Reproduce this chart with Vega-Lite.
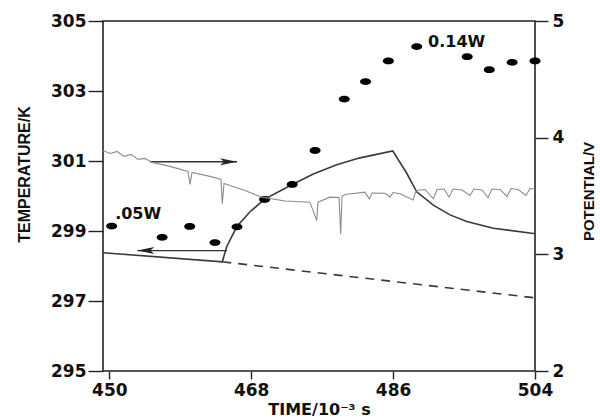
{
  "$schema": "https://vega.github.io/schema/vega-lite/v6.json",
  "width": 432,
  "height": 350,
  "autosize": {"type": "none"},
  "padding": {"left": 103, "top": 21, "right": 65, "bottom": 48},
  "background": "white",
  "config": {
    "view": {"stroke": "#222", "strokeWidth": 1.6},
    "axis": {"grid": false, "domain": false, "tickColor": "#222", "tickWidth": 1.4, "labelColor": "#111", "titleColor": "#111", "labelFont": "DejaVu Sans", "labelFontWeight": "bold", "labelFontSize": 17}
  },
  "datasets": {
    "dots": [
      {"t": 450.3, "T": 299.14}, {"t": 456.7, "T": 298.82}, {"t": 460.2, "T": 299.13},
      {"t": 463.4, "T": 298.67}, {"t": 466.2, "T": 299.12}, {"t": 469.7, "T": 299.9},
      {"t": 473.2, "T": 300.33}, {"t": 476.1, "T": 301.3}, {"t": 479.8, "T": 302.77},
      {"t": 482.5, "T": 303.27}, {"t": 485.4, "T": 303.86}, {"t": 489.0, "T": 304.27},
      {"t": 495.4, "T": 303.98}, {"t": 498.2, "T": 303.61}, {"t": 501.1, "T": 303.82},
      {"t": 504.0, "T": 303.86}
    ],
    "temp": [
      {"t": 449.2, "T": 298.38}, {"t": 464.33, "T": 298.12}, {"t": 464.89, "T": 298.55},
      {"t": 466.16, "T": 299.12}, {"t": 467.85, "T": 299.55}, {"t": 469.71, "T": 299.91},
      {"t": 473.21, "T": 300.33}, {"t": 475.88, "T": 300.63}, {"t": 478.85, "T": 300.89},
      {"t": 481.8, "T": 301.09}, {"t": 485.95, "T": 301.29}, {"t": 487.73, "T": 300.65},
      {"t": 488.99, "T": 300.12}, {"t": 491.1, "T": 299.74}, {"t": 493.22, "T": 299.46},
      {"t": 495.34, "T": 299.27}, {"t": 498.71, "T": 299.08}, {"t": 503.79, "T": 298.93},
      {"t": 504.0, "T": 298.93}
    ],
    "dashed": [
      {"t": 464.33, "T": 298.12}, {"t": 504.0, "T": 297.09}
    ],
    "arrows": [
      {"x1": 455.2, "x2": 466.2, "T": 300.98},
      {"x1": 453.55, "x2": 464.9, "T": 298.44}
    ],
    "heads": [
      {"t": 466.2, "T": 300.98, "dir": "right"},
      {"t": 453.55, "T": 298.44, "dir": "left"}
    ],
    "labels": [
      {"t": 450.74, "T": 299.49, "label": ".05W"},
      {"t": 490.44, "T": 304.4, "label": "0.14W"}
    ],
    "noisy": [
      {"t": 449.2, "P": 3.891}, {"t": 450.09, "P": 3.865}, {"t": 450.98, "P": 3.882},
      {"t": 451.86, "P": 3.84}, {"t": 452.75, "P": 3.857}, {"t": 453.64, "P": 3.814},
      {"t": 454.53, "P": 3.822}, {"t": 455.42, "P": 3.788}, {"t": 457.7, "P": 3.754},
      {"t": 459.98, "P": 3.711}, {"t": 460.24, "P": 3.599}, {"t": 460.49, "P": 3.702},
      {"t": 462.77, "P": 3.668}, {"t": 464.17, "P": 3.642}, {"t": 464.33, "P": 3.433},
      {"t": 464.55, "P": 3.607}, {"t": 467.21, "P": 3.547}, {"t": 469.37, "P": 3.49},
      {"t": 472.29, "P": 3.457}, {"t": 475.46, "P": 3.447}, {"t": 476.31, "P": 3.289},
      {"t": 476.47, "P": 3.447}, {"t": 478.0, "P": 3.49}, {"t": 479.14, "P": 3.487},
      {"t": 479.35, "P": 3.175}, {"t": 479.52, "P": 3.496}, {"t": 479.9, "P": 3.513},
      {"t": 482.43, "P": 3.533}, {"t": 482.98, "P": 3.476}, {"t": 483.33, "P": 3.526},
      {"t": 484.98, "P": 3.524}, {"t": 485.61, "P": 3.49}, {"t": 485.99, "P": 3.53},
      {"t": 486.88, "P": 3.519}, {"t": 488.53, "P": 3.466}, {"t": 488.91, "P": 3.547},
      {"t": 490.05, "P": 3.556}, {"t": 491.1, "P": 3.476}, {"t": 491.57, "P": 3.556},
      {"t": 492.46, "P": 3.56}, {"t": 493.09, "P": 3.49}, {"t": 493.6, "P": 3.56},
      {"t": 494.74, "P": 3.552}, {"t": 495.76, "P": 3.504}, {"t": 496.26, "P": 3.56},
      {"t": 497.28, "P": 3.552}, {"t": 498.04, "P": 3.487}, {"t": 498.55, "P": 3.56},
      {"t": 499.56, "P": 3.556}, {"t": 500.45, "P": 3.496}, {"t": 500.96, "P": 3.564},
      {"t": 501.85, "P": 3.556}, {"t": 502.86, "P": 3.504}, {"t": 503.37, "P": 3.564},
      {"t": 504.0, "P": 3.56}
    ]
  },
  "layer": [
    {
      "layer": [
        {
          "data": {"name": "temp"},
          "mark": {"type": "line", "color": "#3a3a3a", "strokeWidth": 1.6},
          "encoding": {
            "x": {"field": "t", "type": "quantitative",
              "scale": {"domain": [449.2, 504], "nice": false, "zero": false},
              "axis": {"values": [450, 468, 486, 504], "tickSize": 8, "labelPadding": 3, "labelFlush": false,
                "title": "TIME/10⁻³ s", "titleFont": "DejaVu Sans", "titleFontWeight": "bold", "titleFontSize": 16,
                "titleX": 216, "titleY": 38, "titleBaseline": "middle", "titleAlign": "center"}},
            "y": {"field": "T", "type": "quantitative",
              "scale": {"domain": [295, 305], "nice": false, "zero": false},
              "axis": {"orient": "left", "values": [295, 297, 299, 301, 303, 305], "tickSize": 15, "labelPadding": 2,
                "title": "TEMPERATURE/K", "titleFont": "Liberation Sans Narrow, Liberation Sans", "titleFontWeight": "bold", "titleFontSize": 16,
                "titleAngle": 270, "titleX": -79, "titleY": 153, "titleBaseline": "middle", "titleAlign": "center"}}
          }
        },
        {
          "data": {"name": "dashed"},
          "mark": {"type": "line", "color": "#3a3a3a", "strokeWidth": 1.6, "strokeDash": [9, 7]},
          "encoding": {
            "x": {"field": "t", "type": "quantitative"},
            "y": {"field": "T", "type": "quantitative"}
          }
        },
        {
          "data": {"name": "arrows"},
          "mark": {"type": "rule", "color": "#333", "strokeWidth": 1.4},
          "encoding": {
            "x": {"field": "x1", "type": "quantitative"},
            "x2": {"field": "x2"},
            "y": {"field": "T", "type": "quantitative"}
          }
        },
        {
          "data": {"name": "heads"},
          "mark": {"type": "point", "filled": true, "opacity": 1, "color": "#222", "size": 100},
          "encoding": {
            "x": {"field": "t", "type": "quantitative"},
            "y": {"field": "T", "type": "quantitative"},
            "shape": {"field": "dir", "type": "nominal", "legend": null,
              "scale": {"domain": ["right", "left"], "range": ["M0,0L-3.4,-0.7L-2.6,0L-3.4,0.7Z", "M0,0L3.4,-0.7L2.6,0L3.4,0.7Z"]}}
          }
        },
        {
          "data": {"name": "dots"},
          "mark": {"type": "point", "filled": true, "opacity": 1, "color": "#000", "size": 121,
            "shape": "M-1,0A1,0.62,0,1,0,1,0A1,0.62,0,1,0,-1,0Z"},
          "encoding": {
            "x": {"field": "t", "type": "quantitative"},
            "y": {"field": "T", "type": "quantitative"}
          }
        },
        {
          "data": {"name": "labels"},
          "mark": {"type": "text", "align": "left", "baseline": "middle", "font": "DejaVu Sans", "fontWeight": "bold", "fontSize": 16, "color": "#111"},
          "encoding": {
            "x": {"field": "t", "type": "quantitative"},
            "y": {"field": "T", "type": "quantitative"},
            "text": {"field": "label"}
          }
        }
      ]
    },
    {
      "data": {"name": "noisy"},
      "mark": {"type": "line", "color": "#8c8c8c", "strokeWidth": 1.1},
      "encoding": {
        "x": {"field": "t", "type": "quantitative"},
        "y": {"field": "P", "type": "quantitative",
          "scale": {"domain": [2, 5], "nice": false, "zero": false},
          "axis": {"orient": "right", "values": [2, 3, 4, 5], "tickSize": 13, "labelPadding": 4,
            "title": "POTENTIAL/V", "titleFont": "Liberation Sans Narrow, Liberation Sans", "titleFontWeight": "bold", "titleFontSize": 15,
            "titleAngle": 270, "titleX": 53, "titleY": 170, "titleBaseline": "middle", "titleAlign": "center"}}
      }
    }
  ],
  "resolve": {"scale": {"y": "independent"}}
}
